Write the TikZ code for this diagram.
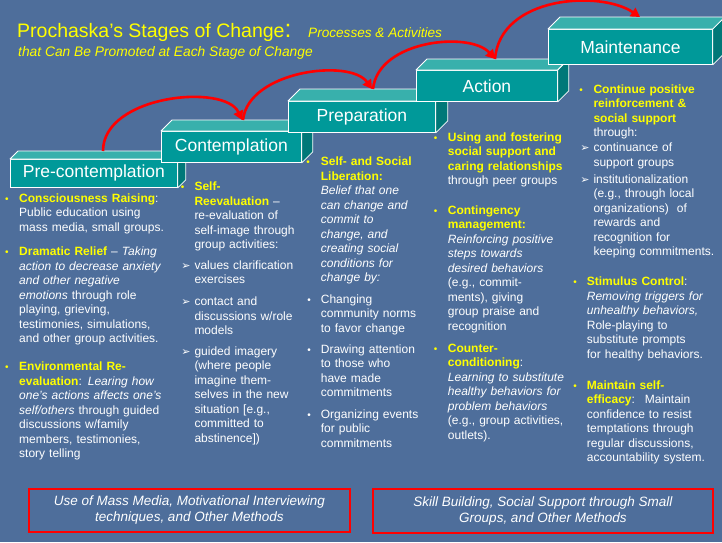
\documentclass[tikz,border=0pt]{standalone}
\usepackage{fontspec}
\setmainfont{Liberation Sans}
\newfontfamily\dejavu{DejaVu Sans}
\usetikzlibrary{arrows.meta,calc}
\definecolor{bg}{RGB}{78,110,155}
\definecolor{yel}{RGB}{255,255,0}
\definecolor{tfront}{RGB}{0,153,153}
\definecolor{ttop}{RGB}{56,176,172}
\definecolor{tside}{RGB}{0,120,120}
\definecolor{arr}{RGB}{255,0,0}
\newcommand\hdg[1]{{\bfseries\color{yel}#1}}
\tikzset{
 front/.style={fill=tfront, draw=white, line width=0.8pt, text=white, font=\fontsize{17.5}{20}\selectfont, inner sep=0pt, anchor=north west},
 topface/.style={fill=ttop, draw=white, line width=0.8pt, line join=round},
 sideface/.style={fill=tside, draw=white, line width=0.8pt, line join=round},
 stagearrow/.style={draw=arr, line width=2.6pt, -{Triangle[length=9pt,width=10pt]}},
 txt/.style={anchor=base west, inner sep=0pt, text width=150pt, align=left, font=\fontsize{12}{14.5}\selectfont, text=white},
 dot/.style={anchor=base, inner sep=0pt, font=\fontsize{10}{12}\selectfont, text=yel},
 wdot/.style={dot, text=white},
 pointer/.style={anchor=base, inner sep=0pt, font=\dejavu\fontsize{11}{12}\selectfont, text=white},
 note/.style={draw=arr, line width=1.8pt, inner sep=0pt, anchor=north west, align=center, font=\itshape\fontsize{13.5}{16}\selectfont, text=white},
 ttl/.style={anchor=base west, inner sep=0pt, text=yel},
}
\newcommand\stagebox[7]{%
  \node[front, minimum width=#4pt, minimum height=#5pt] (#1) at (#2,#3) {#7};
  \draw[topface] (#1.north west) -- ++(#6,-#6) -- ($(#1.north east)+(#6,-#6)$) -- (#1.north east) -- cycle;
  \draw[sideface] (#1.north east) -- ++(#6,-#6) -- ($(#1.south east)+(#6,-#6)$) -- (#1.south east) -- cycle;
}
\begin{document}
\begin{tikzpicture}[x=1pt,y=-1pt]
\useasboundingbox (0,0) rectangle (722,542);
\fill[bg] (0,0) rectangle (722,542);

% title
\node[ttl, font=\fontsize{19.5}{22}\selectfont] (title) at (17,37.7) {Prochaska’s Stages of Change{\fontsize{25}{25}\selectfont:}};
\node[ttl, font=\itshape\fontsize{13.6}{16}\selectfont] (sub1) at (308,37.5) {Processes \& Activities};
\node[ttl, font=\itshape\fontsize{13.8}{16}\selectfont] (sub2) at (18,56.5) {that Can Be Promoted at Each Stage of Change};

% stage boxes
\stagebox{pre}{10}{159}{167}{28}{8}{Pre-contemplation}
\stagebox{cont}{161}{131}{140}{31}{11}{Contemplation}
\stagebox{prep}{288}{101}{147}{31}{12}{Preparation}
\stagebox{act}{416}{70}{141}{31}{11}{Action}
\stagebox{maint}{548}{29}{164}{35}{12}{Maintenance}

% arrows
\draw[stagearrow] ([shift={(93,-8)}]pre.north west) .. controls +(0,-56) and +(-17,-37) .. ([shift={(81,-11)}]cont.north west);
\draw[stagearrow] ([shift={(82,-11)}]cont.north west) .. controls +(5,-49) and +(-22,-31) .. ([shift={(84,-12)}]prep.north west);
\draw[stagearrow] ([shift={(85,-12)}]prep.north west) .. controls +(5,-49) and +(-25,-28) .. ([shift={(79,-11)}]act.north west);
\draw[stagearrow] ([shift={(79,-11)}]act.north west) .. controls +(5,-63) and +(-40,-27) .. ([shift={(92,-12)}]maint.north west);

% column 1
\node[dot] (b1a) at (7,202.3) {•};
\node[txt] (t1a) at (19,202.3) {\hdg{Consciousness Raising}:\\Public education using\\mass media, small groups.};
\node[dot] (b1b) at (7,255.7) {•};
\node[txt] (t1b) at (19,255.7) {\hdg{Dramatic Relief} – \textit{Taking}\\\textit{action to decrease anxiety}\\\textit{and other negative}\\\textit{emotions} through role\\playing, grieving,\\testimonies, simulations,\\and other group activities.};
\node[dot] (b1c) at (7,370.7) {•};
\node[txt] (t1c) at (19,370.7) {\hdg{Environmental Re-}\\\hdg{evaluation}: \textit{Learing how}\\\textit{one’s actions affects one’s}\\\textit{self/others} through guided\\discussions w/family\\members, testimonies,\\story telling};

% column 2
\node[dot] (b2a) at (182.7,190.7) {•};
\node[txt] (t2a) at (194.3,190.7) {\hdg{Self-}\\\hdg{Reevaluation} –\\re-evaluation of\\self-image through\\group activities:};
\node[pointer] (p2b) at (186,269) {➢};
\node[txt] (t2b) at (194.3,269) {values clarification\\exercises};
\node[pointer] (p2c) at (186,305.7) {➢};
\node[txt] (t2c) at (194.3,305.7) {contact and\\discussions w/role\\models};
\node[pointer] (p2d) at (186,355) {➢};
\node[txt] (t2d) at (194.3,355) {guided imagery\\(where people\\imagine them-\\selves in the new\\situation [e.g.,\\committed to\\abstinence])};

% column 3
\node[dot] (b3a) at (308,165.7) {•};
\node[txt] (t3a) at (320.7,165.7) {\hdg{Self- and Social}\\\hdg{Liberation:}\\\textit{Belief that one}\\\textit{can change and}\\\textit{commit to}\\\textit{change, and}\\\textit{creating social}\\\textit{conditions for}\\\textit{change by:}};
\node[wdot] (b3b) at (309,303) {•};
\node[txt] (t3b) at (320.7,303) {Changing\\community norms\\to favor change};
\node[wdot] (b3c) at (309,353.3) {•};
\node[txt] (t3c) at (320.7,353.3) {Drawing attention\\to those who\\have made\\commitments};
\node[wdot] (b3d) at (309,418) {•};
\node[txt] (t3d) at (320.7,418) {Organizing events\\for public\\commitments};

% column 4
\node[dot] (b4a) at (435.7,141.3) {•};
\node[txt] (t4a) at (447.7,141.3) {\hdg{Using and fostering}\\\hdg{social support and}\\\hdg{caring relationships}\\through peer groups};
\node[dot] (b4b) at (435.7,214) {•};
\node[txt] (t4b) at (447.7,214) {\hdg{Contingency}\\\hdg{management:}\\\textit{Reinforcing positive}\\\textit{steps towards}\\\textit{desired behaviors}\\(e.g., commit-\\ments), giving\\group praise and\\recognition};
\node[dot] (b4c) at (435.7,352.3) {•};
\node[txt] (t4c) at (447.7,352.3) {\hdg{Counter-}\\\hdg{conditioning}:\\\textit{Learning to substitute}\\\textit{healthy behaviors for}\\\textit{problem behaviors}\\(e.g., group activities,\\outlets).};

% column 5
\node[dot] (b5a) at (581,93.3) {•};
\node[txt] (t5a) at (593.3,93.3) {\hdg{Continue positive}\\\hdg{reinforcement \&}\\\hdg{social support}\\through:};
\node[pointer] (p5b) at (585,151.7) {➢};
\node[txt] (t5b) at (593.3,151.7) {continuance of\\support groups};
\node[pointer] (p5c) at (585,183) {➢};
\node[txt] (t5c) at (593.3,183) {institutionalization\\(e.g., through local\\organizations)~ of\\rewards and\\recognition for\\keeping commitments.};
\node[dot] (b5d) at (575,285.7) {•};
\node[txt] (t5d) at (586.7,285.7) {\hdg{Stimulus Control}:\\\textit{Removing triggers for}\\\textit{unhealthy behaviors,}\\Role-playing to\\substitute prompts\\for healthy behaviors.};
\node[dot] (b5e) at (575,389) {•};
\node[txt] (t5e) at (586.7,389) {\hdg{Maintain self-}\\\hdg{efficacy}:~ Maintain\\confidence to resist\\temptations through\\regular discussions,\\accountability system.};

% bottom notes
\node[note, minimum width=321pt, minimum height=43pt] (n1) at (28,488) {Use of Mass Media, Motivational Interviewing\\techniques, and Other Methods};
\node[note, minimum width=340pt, minimum height=44pt] (n2) at (372,488) {Skill Building, Social Support through Small\\Groups, and Other Methods};
\end{tikzpicture}
\end{document}
